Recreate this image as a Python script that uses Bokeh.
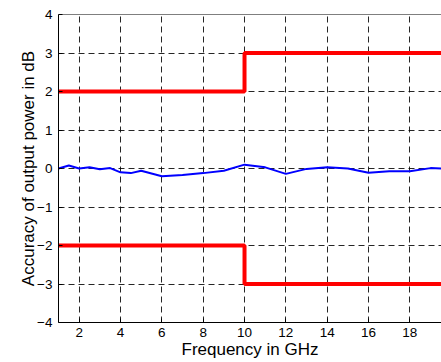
from bokeh.plotting import figure
from bokeh.models import Range1d, FixedTicker, Span
from bokeh.embed import file_html
from bokeh.resources import INLINE

# Data
freq = [1, 1.5, 2, 2.5, 3, 3.5, 4, 4.5, 5, 6, 7, 8, 9, 10, 11, 12, 13, 14, 15, 16, 17, 18, 19, 19.6]
accuracy = [0.0, 0.08, 0.0, 0.03, -0.02, 0.01, -0.1, -0.12, -0.06, -0.2, -0.17, -0.12, -0.06,
            0.1, 0.03, -0.14, -0.01, 0.03, 0.0, -0.11, -0.07, -0.07, 0.01, 0.0]
limit_freq = [1, 10, 20]
upper_limit = [2, 3, 3]
lower_limit = [-2, -3, -3]
x_ticks = [2, 4, 6, 8, 10, 12, 14, 16, 18]
y_ticks = [-4, -3, -2, -1, 0, 1, 2, 3, 4]

FONT = "Liberation Sans"

p = figure(width=441, height=362, output_backend="svg", toolbar_location=None,
           x_range=Range1d(1, 19.53), y_range=Range1d(-4, 4),
           min_border_left=58, min_border_right=0, min_border_top=14, min_border_bottom=40)
p.outline_line_color = None
p.background_fill_color = "white"

p.step(limit_freq, upper_limit, mode="after", line_color="#ff0000", line_width=4)
p.step(limit_freq, lower_limit, mode="after", line_color="#ff0000", line_width=4)
p.line(freq, accuracy, line_color="#0000ff", line_width=2)

for ax in p.axis:
    ax.major_tick_in = 4
    ax.major_tick_out = 0
    ax.minor_tick_line_color = None
    ax.axis_line_color = "black"
    ax.major_tick_line_color = "black"
    ax.major_label_text_font = FONT
    ax.major_label_text_font_size = "13.5px"
    ax.major_label_text_color = "black"
    ax.axis_label_text_font = FONT
    ax.axis_label_text_font_size = "17px"
    ax.axis_label_text_font_style = "normal"
    ax.axis_label_text_color = "black"

p.xaxis.ticker = FixedTicker(ticks=x_ticks)
p.yaxis.ticker = FixedTicker(ticks=y_ticks)
p.xaxis.axis_label = "Frequency in GHz"
p.yaxis.axis_label = "Accuracy of output power in dB"
p.xaxis.major_label_standoff = 5
p.yaxis.major_label_standoff = 6
p.xaxis.axis_label_standoff = 0
p.yaxis.axis_label_standoff = -4

p.add_layout(Span(location=4, dimension="width", line_color="black", line_width=1))

for g in (p.xgrid, p.ygrid):
    g.grid_line_color = "black"
    g.grid_line_dash = "6 4"
    g.grid_line_width = 1
    g.grid_line_alpha = 0.85
p.xgrid.ticker = FixedTicker(ticks=x_ticks)
p.ygrid.ticker = FixedTicker(ticks=[-3, -2, -1, 0, 1, 2, 3])

open("out.html", "w").write(file_html(p, INLINE))
